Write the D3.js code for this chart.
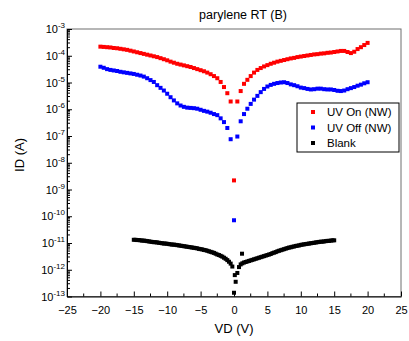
<!DOCTYPE html>
<html lang="en">
<head>
    <meta charset="UTF-8">
    <title>parylene RT (B)</title>
    <script src="https://d3js.org/d3.v7.min.js"></script>
    <style>
        body {
            margin: 0;
            padding: 0;
            background: #fff;
            font-family: "Liberation Sans", Arial, sans-serif;
        }
        .frame {
            fill: none;
            stroke: #6e6e6e;
            stroke-width: 1;
        }
        .axis path, .axis line {
            stroke: #000;
            stroke-width: 1;
        }
        .axis text {
            font-size: 11px;
            fill: #000;
        }
    </style>
</head>
<body>
    <svg id="chart" width="409" height="341"></svg>

    <script>
        // voltage sweeps (V)
        const vdUV = d3.range(-20, 20.001, 0.5);
        const vdBlank = d3.range(-15, 15.001, 0.25);

        // log10 of ID (A)
        const uvOnLog = [
            -3.66, -3.67, -3.68, -3.69, -3.71, -3.72, -3.74, -3.76, -3.78, -3.81,
            -3.84, -3.87, -3.90, -3.93, -3.96, -3.99, -4.02, -4.05, -4.09, -4.13,
            -4.17, -4.22, -4.26, -4.30, -4.33, -4.36, -4.39, -4.42, -4.46, -4.50,
            -4.54, -4.58, -4.63, -4.69, -4.76, -4.84, -4.98, -5.17, -5.40, -5.71,
            -8.66,
            -5.71, -5.32, -5.05, -4.90, -4.76, -4.63, -4.53, -4.46, -4.40, -4.35,
            -4.30, -4.26, -4.22, -4.19, -4.16, -4.13, -4.10, -4.08, -4.05, -4.03,
            -4.01, -3.99, -3.97, -3.95, -3.94, -3.92, -3.91, -3.89, -3.88, -3.86,
            -3.84, -3.82, -3.82, -3.86, -3.90, -3.85, -3.75, -3.68, -3.60, -3.52
        ];
        const uvOffLog = [
            -4.41, -4.45, -4.50, -4.53, -4.55, -4.57, -4.60, -4.62, -4.64, -4.66,
            -4.68, -4.71, -4.74, -4.78, -4.84, -4.91, -4.98, -5.10, -5.20, -5.30,
            -5.42, -5.55, -5.67, -5.78, -5.86, -5.91, -5.94, -5.95, -5.96, -5.98,
            -6.02, -6.06, -6.09, -6.13, -6.18, -6.22, -6.34, -6.48, -6.70, -7.12,
            -10.15,
            -7.02, -6.45, -6.18, -5.98, -5.80, -5.64, -5.50, -5.36, -5.24, -5.15,
            -5.09, -5.05, -5.02, -5.00, -4.99, -5.02, -5.07, -5.10, -5.14, -5.19,
            -5.21, -5.24, -5.26, -5.25, -5.23, -5.23, -5.25, -5.26, -5.26, -5.28,
            -5.31, -5.32, -5.30, -5.25, -5.21, -5.17, -5.12, -5.08, -5.03, -4.99
        ];
        const blankLog = [
            -10.88, -10.88, -10.89, -10.89, -10.90, -10.91, -10.91, -10.92, -10.93, -10.94,
            -10.95, -10.96, -10.97, -10.97, -10.98, -10.99, -11.00, -11.01, -11.02, -11.02,
            -11.03, -11.04, -11.05, -11.06, -11.06, -11.07, -11.08, -11.09, -11.10, -11.11,
            -11.12, -11.13, -11.14, -11.15, -11.16, -11.17, -11.18, -11.19, -11.20, -11.22,
            -11.23, -11.24, -11.26, -11.27, -11.29, -11.31, -11.33, -11.35, -11.37, -11.40,
            -11.43, -11.45, -11.48, -11.51, -11.55, -11.59, -11.64, -11.70, -11.77, -11.88,
            -12.86,
            -12.45, -12.12, -11.90, -11.80, -11.76, -11.73, -11.71, -11.69, -11.67, -11.65,
            -11.63, -11.61, -11.59, -11.57, -11.55, -11.53, -11.51, -11.49, -11.47, -11.45,
            -11.43, -11.41, -11.38, -11.36, -11.34, -11.31, -11.29, -11.27, -11.25, -11.23,
            -11.21, -11.19, -11.17, -11.16, -11.14, -11.13, -11.11, -11.10, -11.09, -11.07,
            -11.06, -11.05, -11.04, -11.03, -11.02, -11.01, -11.00, -10.99, -10.98, -10.97,
            -10.96, -10.95, -10.95, -10.94, -10.93, -10.92, -10.92, -10.91, -10.90, -10.90
        ];
        // stray blank points near 0 V
        const blankExtraVd = [0.12, 1.2];
        const blankExtraLog = [-12.2, -11.40];

        const xTicks = [-25, -20, -15, -10, -5, 0, 5, 10, 15, 20, 25];
        const yDecades = [-3, -4, -5, -6, -7, -8, -9, -10, -11, -12, -13];

        const series = [
            { name: "UV On (NW)", color: "#ff0000", vd: vdUV, log: uvOnLog },
            { name: "UV Off (NW)", color: "#0000ff", vd: vdUV, log: uvOffLog },
            { name: "Blank", color: "#000000",
              vd: vdBlank.concat(blankExtraVd), log: blankLog.concat(blankExtraLog) }
        ];

        const svg = d3.select("#chart");
        const plotLeft = 67, plotRight = 401, plotTop = 29, plotBottom = 296.5;

        const x = d3.scaleLinear().domain([-25, 25]).range([plotLeft, plotRight]);
        const y = d3.scaleLog().domain([1e-13, 1e-3]).range([plotBottom, plotTop]);

        // title
        svg.append("text")
            .attr("x", 243).attr("y", 19)
            .attr("text-anchor", "middle")
            .style("font-size", "12.5px")
            .text("parylene RT (B)");

        // grey top / right frame
        svg.append("rect")
            .attr("class", "frame")
            .attr("x", plotLeft).attr("y", plotTop)
            .attr("width", plotRight - plotLeft).attr("height", plotBottom - plotTop);

        // bottom axis, ticks inward
        const xAxis = svg.append("g")
            .attr("class", "axis")
            .attr("transform", `translate(0,${plotBottom})`)
            .call(d3.axisBottom(x).tickValues(xTicks).tickSize(-5).tickPadding(8)
                .tickFormat(d3.format("d")).tickSizeOuter(0));
        xAxis.selectAll("text").attr("dy", "0.9em");

        const xMinor = d3.range(-22.5, 25, 5);
        xAxis.selectAll(".minor")
            .data(xMinor)
            .enter().append("line")
            .attr("class", "minor")
            .attr("x1", d => x(d)).attr("x2", d => x(d))
            .attr("y1", 0).attr("y2", -3);

        // left axis, decade ticks inward + minor ticks
        const yAxis = svg.append("g")
            .attr("class", "axis")
            .attr("transform", `translate(${plotLeft},0)`)
            .call(d3.axisLeft(y).tickValues(yDecades.map(e => Math.pow(10, e)))
                .tickSize(-5).tickFormat("").tickSizeOuter(0));

        const yMinor = [];
        yDecades.slice(1).forEach(e => {
            for (let m = 2; m <= 9; m++) yMinor.push(m * Math.pow(10, e));
        });
        yAxis.selectAll(".minor")
            .data(yMinor)
            .enter().append("line")
            .attr("class", "minor")
            .attr("x1", 0).attr("x2", 3)
            .attr("y1", d => y(d)).attr("y2", d => y(d));

        // 10^n labels
        yDecades.forEach(e => {
            const t = svg.append("text")
                .attr("x", 65)
                .attr("y", y(Math.pow(10, e)) + 4)
                .attr("text-anchor", "end")
                .style("font-size", "11px");
            t.append("tspan").text("10");
            t.append("tspan")
                .attr("dy", -5)
                .style("font-size", "8px")
                .text(String(e));
        });

        // axis titles
        svg.append("text")
            .attr("x", 234).attr("y", 333)
            .attr("text-anchor", "middle")
            .style("font-size", "13px")
            .text("VD (V)");

        svg.append("text")
            .attr("transform", "translate(24,155) rotate(-90)")
            .attr("text-anchor", "middle")
            .style("font-size", "13px")
            .text("ID (A)");

        // data markers
        const ms = 4;
        series.slice().reverse().forEach(s => {
            svg.append("g")
                .selectAll("rect")
                .data(s.vd.map((v, i) => [v, Math.pow(10, s.log[i])]))
                .enter().append("rect")
                .attr("x", d => x(d[0]) - ms / 2)
                .attr("y", d => y(d[1]) - ms / 2)
                .attr("width", ms).attr("height", ms)
                .attr("fill", s.color);
        });

        // legend
        const legend = svg.append("g").attr("transform", "translate(297,103)");
        legend.append("rect")
            .attr("width", 102).attr("height", 49)
            .attr("fill", "#fff").attr("stroke", "#000").attr("stroke-width", 1);

        series.forEach((s, i) => {
            legend.append("rect")
                .attr("x", 14).attr("y", 7 + i * 15.5)
                .attr("width", 4).attr("height", 4)
                .attr("fill", s.color);
            legend.append("text")
                .attr("x", 30).attr("y", 13 + i * 15.5)
                .style("font-size", "11.5px")
                .text(s.name);
        });
    </script>
</body>
</html>
